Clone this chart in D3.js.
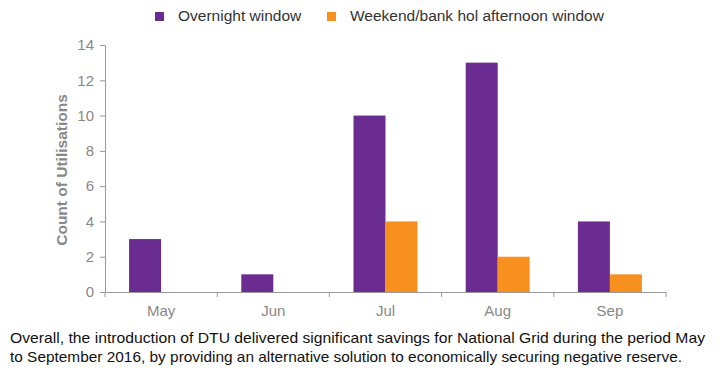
<!DOCTYPE html>
<html><head><meta charset="utf-8">
<script src="https://cdn.jsdelivr.net/npm/d3@7"></script>
<style>body{margin:0;background:#fff;}svg{display:block;font-family:"Liberation Sans",Arial,sans-serif;}</style>
</head><body>
<svg id="c" width="720" height="390"></svg>
<script>
const months = ["May","Jun","Jul","Aug","Sep"];
const seriesNames = ["Overnight window","Weekend/bank hol afternoon window"];
const overnight = [3,1,10,13,4];
const weekend = [0,0,4,2,1];
const yTicks = [0,2,4,6,8,10,12,14];
const colors = ["#6b2c91","#f7901e"];
const caption = ["Overall, the introduction of DTU delivered significant savings for National Grid during the period May",
"to September 2016, by providing an alternative solution to economically securing negative reserve."];

const svg = d3.select("#c");
const x = d3.scaleBand().domain(months).range([105,666]);
const y = d3.scaleLinear().domain([0,14]).range([292,45]);
const sub = d3.scaleBand().domain([0,1]).range([0,64]);

const g = svg.append("g");
// y axis
const ya = g.append("g").attr("transform","translate(105,0)")
  .call(d3.axisLeft(y).tickValues(yTicks).tickSize(5).tickSizeOuter(0).tickPadding(6));
ya.select(".domain").attr("stroke","#999");
ya.selectAll(".tick line").attr("stroke","#999");
ya.selectAll("text").attr("fill","#888").style("font-size","15px").style("font-family","Liberation Sans, Arial, sans-serif");
// x axis
const xa = g.append("g").attr("transform","translate(0,292)")
  .call(d3.axisBottom(x).tickSize(0).tickPadding(13));
xa.select(".domain").attr("stroke","#999");
xa.selectAll("text").attr("fill","#888").style("font-size","15px").style("font-family","Liberation Sans, Arial, sans-serif");
// x boundary ticks
xa.selectAll(".bt").data(d3.range(months.length+1)).enter().append("line")
  .attr("x1",i=>105+i*x.step()).attr("x2",i=>105+i*x.step())
  .attr("y1",0).attr("y2",5).attr("stroke","#999");

const data = months.map((m,i)=>({m,vals:[overnight[i],weekend[i]]}));
const grp = g.selectAll(".grp").data(data).enter().append("g")
  .attr("transform",d=>`translate(${x(d.m)+x.bandwidth()/2-32},0)`);
grp.selectAll("rect").data(d=>d.vals.map((v,k)=>({v,k}))).enter().append("rect")
  .attr("x",d=>sub(d.k)).attr("width",sub.bandwidth())
  .attr("y",d=>y(d.v)).attr("height",d=>292-y(d.v))
  .attr("fill",d=>colors[d.k]);

// y label
svg.append("text").attr("transform","translate(67,170) rotate(-90)")
  .attr("text-anchor","middle").attr("fill","#888").style("font-size","15.5px").style("font-weight","bold")
  .text("Count of Utilisations");

// legend
const lx = [155,327];
seriesNames.forEach((s,i)=>{
  svg.append("rect").attr("x",lx[i]).attr("y",12).attr("width",9).attr("height",9).attr("fill",colors[i]);
  svg.append("text").attr("x",lx[i]+23).attr("y",21).attr("fill","#333").style("font-size","15.5px").text(s);
});

// caption
const capLen = [695,672];
caption.forEach((t,i)=>{
  svg.append("text").attr("x",10).attr("y",343+i*19).attr("fill","#111").style("font-size","15px")
    .attr("textLength",capLen[i]).attr("lengthAdjust","spacingAndGlyphs").text(t);
});
</script>
</body></html>
